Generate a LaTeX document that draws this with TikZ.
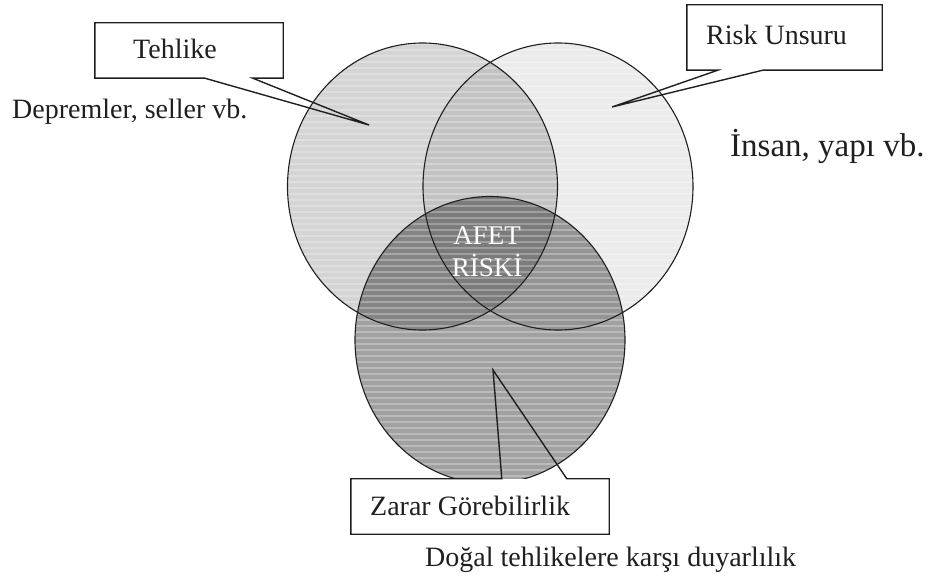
\documentclass[tikz,border=0pt]{standalone}
\usepackage{fontspec}
\setmainfont{Liberation Serif}
\usetikzlibrary{calc}

\definecolor{hazfill}{gray}{0.83}
\definecolor{expfill}{gray}{0.92}
\definecolor{vulfill}{gray}{0.63}
\definecolor{inkc}{gray}{0.12}

\tikzset{
  ring/.style={draw=inkc, line width=1.1pt},
  boxshape/.style={rectangle, fill=white, inner sep=0pt},
  callout/.style={draw=inkc, line width=1.4pt, line join=miter},
  lbl/.style={inner sep=0pt, anchor=base west, text=inkc,
              font=\fontsize{28}{32}\selectfont},
  centrelbl/.style={inner sep=0pt, anchor=base, text=white,
              font=\fontsize{27}{32}\selectfont},
}

\begin{document}
\begin{tikzpicture}[x=1pt,y=-1pt]
\useasboundingbox (0,0) rectangle (930,577);
\fill[white] (0,0) rectangle (930,577);

% centres of the three sets
\coordinate (cH) at (422.5,186.5);
\coordinate (cE) at (558,186.5);
\coordinate (cV) at (490,340);
\def\rx{135}
\def\ry{143.5}

% set fills, overlaps darken by multiplication
\begin{scope}[blend group=multiply]
  \fill[hazfill] (cH) ellipse [x radius=\rx, y radius=\ry];
  \fill[expfill] (cE) ellipse [x radius=\rx, y radius=\ry];
  \fill[vulfill] (cV) ellipse [x radius=\rx, y radius=\ry];
\end{scope}

% horizontal banding inside the sets
\begin{scope}
  \clip (cH) ellipse [x radius=\rx, y radius=\ry]
        (cE) ellipse [x radius=\rx, y radius=\ry]
        (cV) ellipse [x radius=\rx, y radius=\ry];
  \foreach \k in {0,...,75}
    \draw[white, opacity=0.28, line width=2.2pt] (280,{44+6*\k}) -- (700,{44+6*\k});
\end{scope}

% outlines
\draw[ring] (cH) ellipse [x radius=\rx, y radius=\ry];
\draw[ring] (cE) ellipse [x radius=\rx, y radius=\ry];
\draw[ring] (cV) ellipse [x radius=\rx, y radius=\ry];

% centre label
\node[centrelbl] (risk1) at (487,245) {AFET};
\node[centrelbl] (risk2) at (487,277) {RİSKİ};

% callout: hazard
\node[boxshape, minimum width=188pt, minimum height=55pt] (hbox) at (189,50.5) {};
\coordinate (htip) at (369,125);
\draw[callout] ($(hbox.south west)+(110,0)$) -- (hbox.south west) -- (hbox.north west)
  -- (hbox.north east) -- (hbox.south east) -- ($(hbox.south west)+(158,0)$)
  -- (htip) -- cycle;
\node[lbl] (htext) at (133,59) {Tehlike};

% callout: element at risk
\node[boxshape, minimum width=195pt, minimum height=65pt] (ebox) at (784.5,37.5) {};
\coordinate (etip) at (612,107);
\draw[callout] (ebox.south west) -- ($(ebox.south west)+(31,0)$) -- (etip)
  -- ($(ebox.south west)+(76,0)$) -- (ebox.south east) -- (ebox.north east)
  -- (ebox.north west) -- cycle;
\node[lbl] (etext) at (706,45) {Risk Unsuru};

% callout: vulnerability
\node[boxshape, minimum width=258pt, minimum height=55pt] (vbox) at (480,506.5) {};
\coordinate (vtip) at (493,370);
\draw[callout] (vbox.north west) -- ($(vbox.north west)+(151,0)$) -- (vtip)
  -- ($(vbox.north west)+(216,0)$) -- (vbox.north east) -- (vbox.south east)
  -- (vbox.south west) -- cycle;
\node[lbl] (vtext) at (370,515) {Zarar Görebilirlik};

% explanatory notes
\node[lbl] (hnote) at (12,119) {Depremler, seller vb.};
\node[lbl, font=\fontsize{33}{36}\selectfont] (enote) at (730,157) {İnsan, yapı vb.};
\node[lbl] (vnote) at (425,566) {Doğal tehlikelere karşı duyarlılık};
\end{tikzpicture}
\end{document}
